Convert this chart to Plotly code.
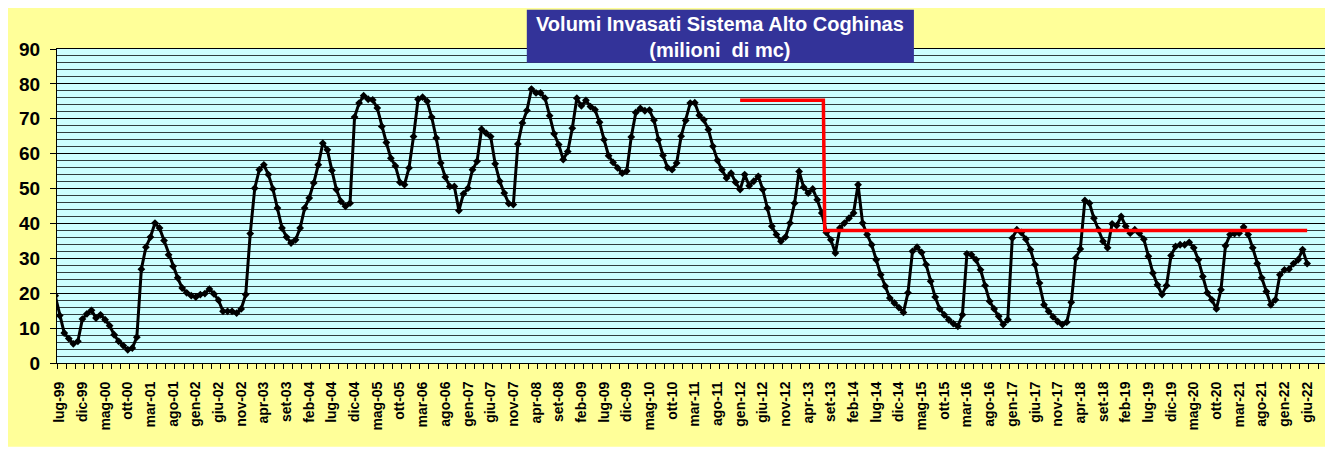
import plotly.graph_objects as go

# ---------------- data ----------------
MONTHS_IT = ["gen", "feb", "mar", "apr", "mag", "giu", "lug", "ago", "set", "ott", "nov", "dic"]
START_MONTH = 5      # giu
START_YEAR = 1999
N_POINTS = 277       # giu-99 .. giu-22
CATEGORIES = [f"{MONTHS_IT[(START_MONTH + k) % 12]}-{(START_YEAR + (START_MONTH + k) // 12) % 100:02d}"
              for k in range(N_POINTS)]

VOLUMES = [
    19.3,
    13.6, 8.6, 7.0, 5.5, 6.2, 12.6, 14.1, 15.1, 12.9, 13.8, 12.4, 10.7,
    8.1, 6.2, 5.0, 3.8, 4.3, 7.4, 26.9, 33.2, 36.1, 40.1, 38.7, 35.1,
    31.0, 27.7, 24.4, 21.5, 20.1, 19.3, 18.9, 19.6, 19.9, 21.2, 19.8, 18.0,
    14.8, 14.8, 14.8, 14.3, 15.5, 19.6, 37.1, 50.1, 55.4, 56.8, 54.0, 49.9,
    44.4, 38.7, 36.1, 34.4, 35.3, 38.7, 44.4, 47.3, 51.6, 56.8, 63.0, 61.1,
    55.2, 49.7, 46.3, 44.9, 45.8, 70.5, 74.5, 76.6, 75.6, 75.4, 73.1, 67.8,
    63.2, 58.7, 56.5, 51.8, 51.1, 55.9, 64.9, 75.6, 76.2, 75.0, 70.5, 64.5,
    57.3, 53.3, 50.6, 50.6, 43.7, 48.5, 50.1, 55.4, 57.8, 67.0, 65.9, 64.9,
    57.1, 52.1, 48.7, 45.7, 45.4, 62.8, 68.8, 72.4, 78.5, 77.4, 77.4, 75.9,
    70.9, 65.7, 62.6, 58.3, 60.6, 67.3, 75.9, 73.7, 75.3, 73.5, 72.6, 69.0,
    64.0, 59.4, 57.5, 55.9, 54.4, 55.0, 64.8, 71.8, 73.0, 72.3, 72.5, 69.6,
    64.0, 59.5, 56.0, 55.4, 57.3, 65.0, 69.5, 74.5, 74.6, 71.0, 69.7, 66.9,
    62.1, 58.1, 55.4, 53.0, 54.4, 51.8, 49.7, 54.0, 50.8, 52.1, 53.5, 49.7,
    44.4, 39.2, 36.8, 34.9, 36.1, 40.1, 45.8, 54.9, 50.4, 48.7, 49.9, 46.8,
    43.0, 37.4, 35.3, 31.5, 38.7, 40.1, 41.5, 43.0, 51.1, 40.1, 36.8, 33.9,
    29.6, 25.3, 22.0, 18.6, 17.2, 15.9, 14.5, 20.1, 32.0, 33.2, 31.7, 28.2,
    23.4, 18.9, 15.5, 13.8, 12.4, 11.3, 10.5, 13.8, 31.3, 31.0, 29.6, 26.7,
    22.2, 17.7, 15.5, 13.4, 11.0, 12.4, 35.8, 38.2, 37.4, 35.5, 32.5, 28.2,
    22.9, 16.7, 14.8, 13.2, 11.9, 11.0, 11.7, 17.4, 30.1, 32.7, 46.6, 45.8,
    41.5, 38.2, 34.9, 33.0, 39.9, 39.4, 42.0, 39.2, 37.2, 38.2, 37.2, 35.5,
    30.6, 25.8, 22.4, 19.6, 22.2, 30.8, 33.4, 33.9, 33.9, 34.6, 33.0, 29.6,
    24.8, 20.1, 18.1, 15.5, 21.0, 33.6, 36.8, 37.1, 37.2, 39.0, 36.8, 33.0,
    28.5, 24.4, 20.5, 16.7, 18.1, 25.3, 26.7, 26.9, 28.5, 29.6, 32.5, 28.5,
]

# reference threshold line (red)
THRESH_START = "gen-12"
THRESH_SWITCH = "lug-13"     # drop happens just after this month
THRESH_END = "giu-22"
THRESH_HIGH = 75.3
THRESH_LOW = 38.0

FIRST_LABEL = "lug-99"
LABEL_STEP = 5

TITLE_TEXT = "Volumi Invasati Sistema Alto Coghinas<br>(milioni  di mc)"

# ---------------- figure ----------------
origin = CATEGORIES.index(FIRST_LABEL)
xs = [k - origin for k in range(len(VOLUMES))]
idx = lambda c: CATEGORIES.index(c) - origin

tick_vals = list(range(0, len(CATEGORIES) - origin, LABEL_STEP))
tick_text = [CATEGORIES[v + origin] for v in tick_vals]

red_x = [idx(THRESH_START), idx(THRESH_SWITCH) + 0.35, idx(THRESH_SWITCH) + 0.65, idx(THRESH_END)]
red_y = [THRESH_HIGH, THRESH_HIGH, THRESH_LOW, THRESH_LOW]

FONT = "Arial, 'Liberation Sans', sans-serif"

fig = go.Figure()
fig.add_trace(go.Scatter(
    x=xs, y=VOLUMES, mode="lines+markers",
    line=dict(color="black", width=3),
    marker=dict(symbol="diamond", size=6, color="black"),
    showlegend=False,
))
fig.add_trace(go.Scatter(
    x=red_x, y=red_y, mode="lines",
    line=dict(color="#FF0000", width=3.5),
    showlegend=False,
))

# the page body has an 8 px margin: work in page coordinates and subtract it
OFF = 8
W, H = 1333 - OFF, 449 - OFF
L = 57.3 - OFF
T = 49.3 - OFF
B = H - (363.3 - OFF)
R = 0
pw = W - L - R
ph = H - T - B


def px2x(px):
    return (px - OFF - L) / pw


def py2y(py):
    return (H - B - (py - OFF)) / ph


fig.update_layout(
    width=W, height=H, autosize=False,
    margin=dict(l=L, r=R, t=T, b=B, pad=0),
    paper_bgcolor="#FFFF99",
    plot_bgcolor="#CCFFFF",
    font=dict(family=FONT, color="black"),
    shapes=[
        # white strip under the yellow chart area
        dict(type="rect", xref="paper", yref="paper", x0=px2x(0), x1=px2x(1400), y0=py2y(470), y1=py2y(447),
             fillcolor="white", line=dict(width=0), layer="above"),
        # title box
        dict(type="rect", xref="paper", yref="paper", x0=px2x(527), x1=px2x(914), y0=py2y(63), y1=py2y(10),
             fillcolor="#333399", line=dict(width=0), layer="above"),
    ],
    annotations=[
        dict(text=f"<b>{TITLE_TEXT}</b>", xref="paper", yref="paper",
             x=px2x(720.5), y=py2y(37), xanchor="center", yanchor="middle",
             showarrow=False, font=dict(family=FONT, size=20, color="white"), align="center"),
    ],
)

fig.update_xaxes(
    range=[-0.6, (pw / 4.535) - 0.6],
    tickmode="array", tickvals=tick_vals, ticktext=[f"<b>{t}</b>" for t in tick_text],
    tickangle=-90, tickfont=dict(family=FONT, size=14, color="black"),
    ticks="", ticklabelstandoff=12,
    showgrid=False, zeroline=False,
    showline=True, linecolor="black", linewidth=1, mirror=True,
    minor=dict(ticks="outside", tick0=-0.6, dtick=2, ticklen=5, tickcolor="black", showgrid=False),
)
fig.update_yaxes(
    range=[0, 90], dtick=10, tick0=0,
    tickfont=dict(family=FONT, size=19, color="black"),
    tickprefix="<b>", ticksuffix="</b>",
    ticks="outside", ticklen=6, tickcolor="black", ticklabelstandoff=6,
    showgrid=True, gridcolor="black", gridwidth=1,
    zeroline=False,
    showline=True, linecolor="black", linewidth=1, mirror=True,
    minor=dict(dtick=2, showgrid=True, gridcolor="#2f3f3f", gridwidth=1, ticks=""),
)

fig.write_html("out.html")
